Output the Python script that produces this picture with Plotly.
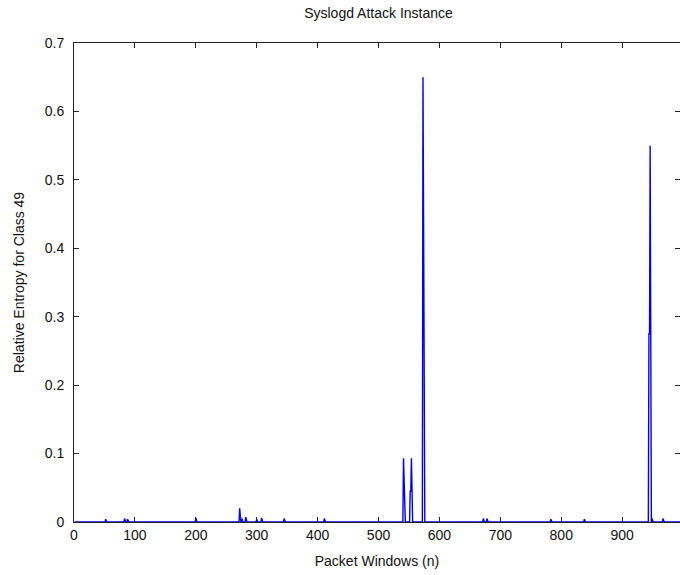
import numpy as np
import plotly.graph_objects as go

# Packet windows with non-zero relative entropy (all other windows are 0)
spike_windows = [52, 83, 88, 200, 272, 273, 276, 282, 300, 308, 345, 411,
                 541, 542, 543, 552, 553, 554, 573, 574, 575, 672, 678, 783, 838,
                 944, 945, 946, 949, 967]
spike_values = [0.004, 0.005, 0.004, 0.006, 0.020, 0.008, 0.005, 0.007, 0.004, 0.006, 0.005, 0.005,
                0.093, 0.045, 0.045, 0.045, 0.045, 0.093, 0.650, 0.322, 0.322, 0.005, 0.005, 0.004, 0.004,
                0.275, 0.275, 0.550, 0.005, 0.005]

n_windows = 1000
windows = np.arange(1, n_windows + 1)
entropy = np.zeros(n_windows)
for w, v in zip(spike_windows, spike_values):
    entropy[w - 1] = v

x_ticks = [0, 100, 200, 300, 400, 500, 600, 700, 800, 900]
y_ticks = [0, 0.1, 0.2, 0.3, 0.4, 0.5, 0.6, 0.7]
y_labels = ["0", "0.1", "0.2", "0.3", "0.4", "0.5", "0.6", "0.7"]

font = dict(family="Liberation Sans, Arial, sans-serif", size=14, color="#111111")

fig = go.Figure()
fig.add_trace(go.Scatter(x=windows, y=entropy, mode="lines",
                         line=dict(color="#0000ff", width=1.4),
                         hoverinfo="skip", showlegend=False))
# invisible trace on a right-hand axis so the y ticks are mirrored without a frame line
fig.add_trace(go.Scatter(x=[0], y=[0], yaxis="y2", mode="markers",
                         marker=dict(opacity=0), showlegend=False, hoverinfo="skip"))

fig.update_layout(
    width=680, height=575,
    margin=dict(l=74, r=0, t=43, b=53),
    paper_bgcolor="white", plot_bgcolor="white",
    font=font,
    title=dict(text="Syslogd Attack Instance", x=(74 + 683) / 2 / 680, xanchor="center",
               y=1 - 13 / 575, yanchor="middle", font=font),
    xaxis=dict(range=[0, 995], tickvals=x_ticks, ticktext=[str(t) for t in x_ticks],
               ticks="inside", ticklen=5, tickcolor="#222222", tickfont=font,
               showline=True, linecolor="#222222", linewidth=1, mirror="ticks",
               showgrid=False, zeroline=False,
               title=dict(text="Packet Windows (n)", standoff=14, font=font)),
    yaxis=dict(range=[0, 0.7], tickvals=y_ticks, ticktext=y_labels,
               ticks="inside", ticklen=5, tickcolor="#222222", tickfont=font,
               ticklabelstandoff=6,
               showline=True, linecolor="#222222", linewidth=1,
               showgrid=False, zeroline=False,
               title=dict(text="Relative Entropy for Class 49", standoff=16, font=font)),
    yaxis2=dict(range=[0, 0.7], overlaying="y", side="right", tickvals=y_ticks,
                ticks="inside", ticklen=5, tickcolor="#222222",
                showticklabels=False, showline=False, showgrid=False, zeroline=False),
)

fig.write_html("out.html")
